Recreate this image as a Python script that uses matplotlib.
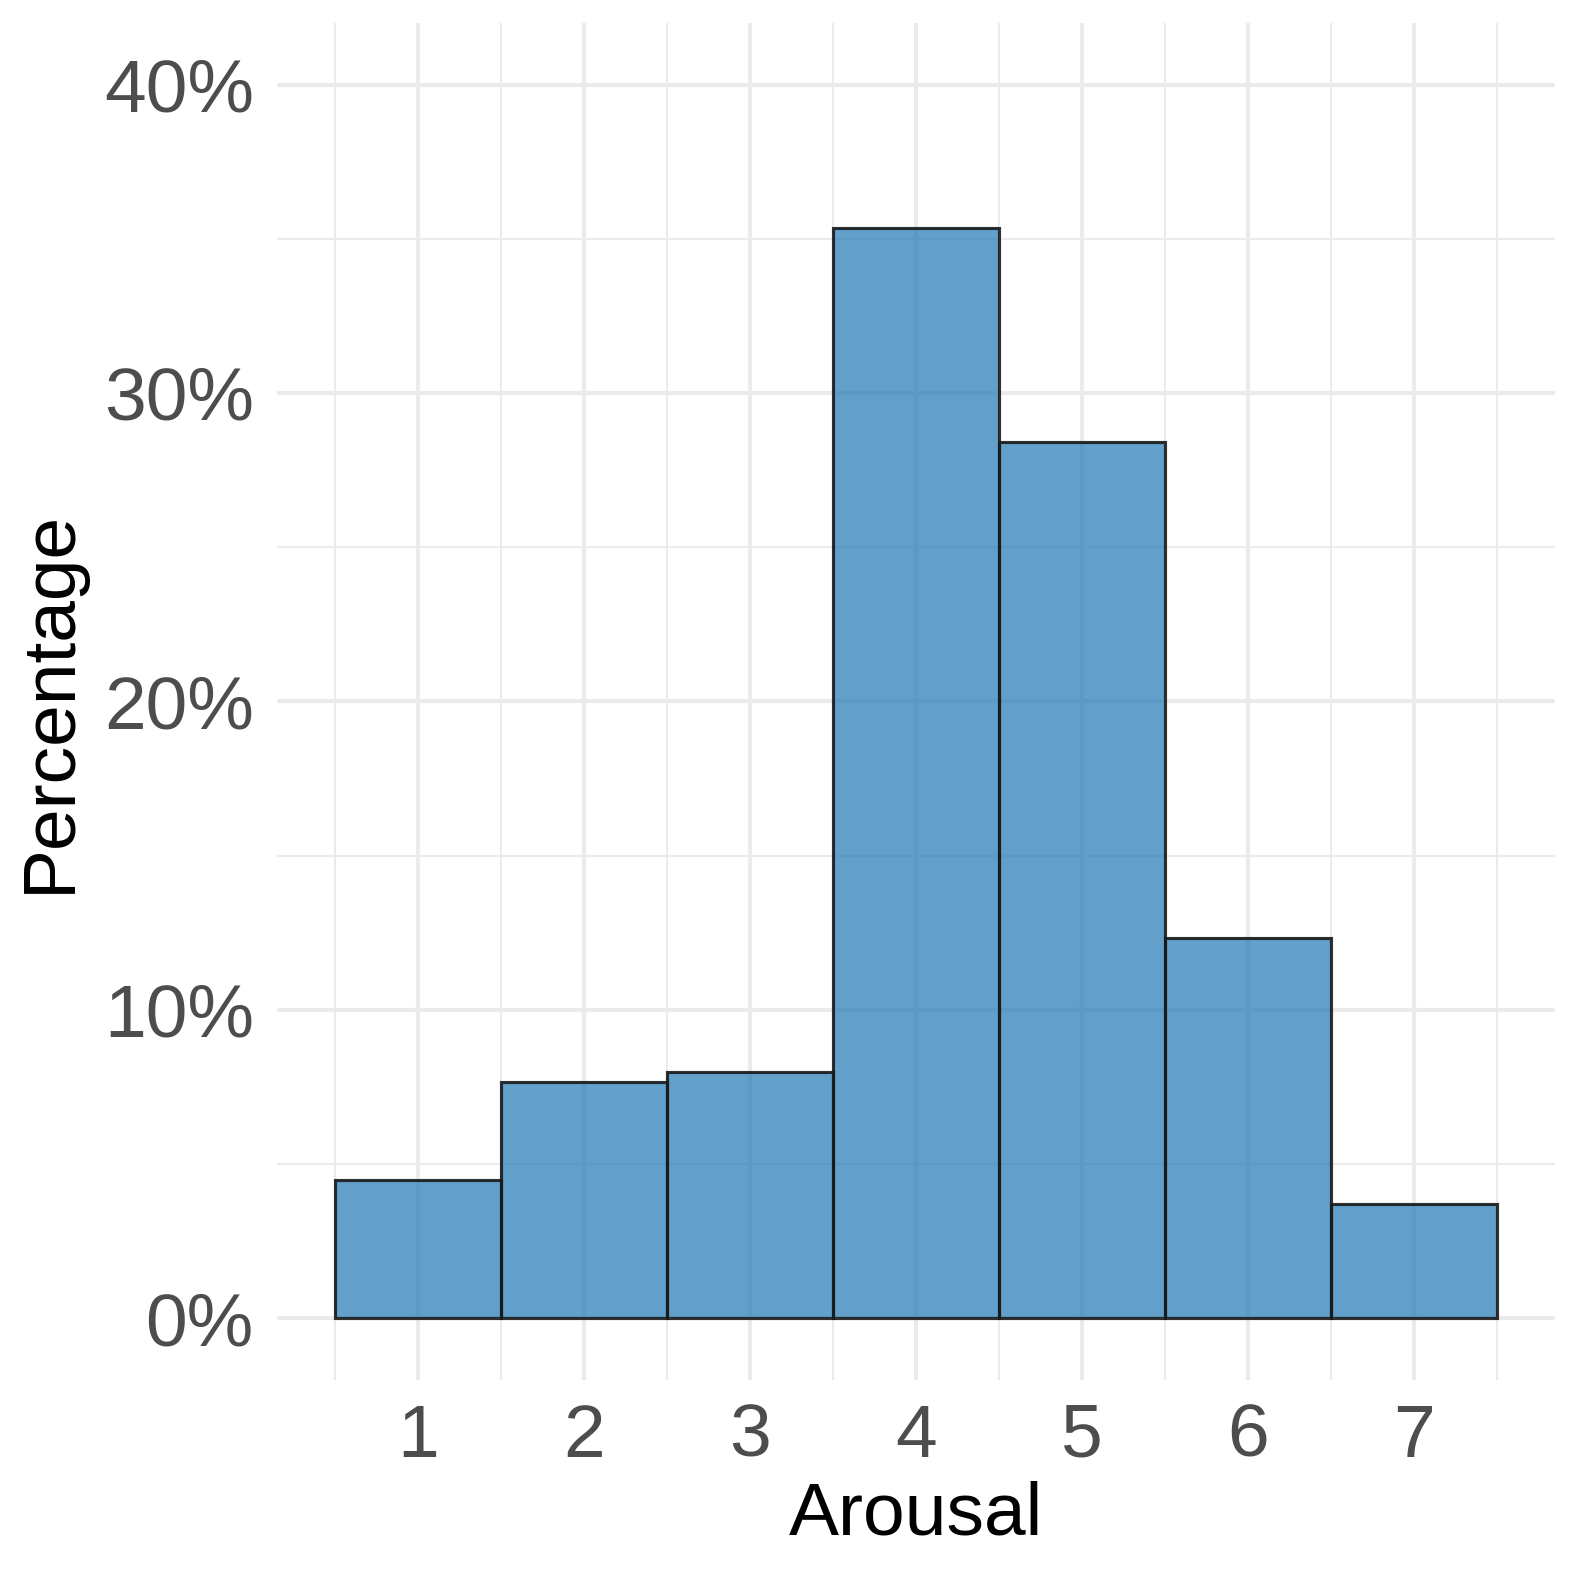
import matplotlib
matplotlib.use("Agg")
import matplotlib.pyplot as plt
from matplotlib.ticker import FixedLocator, FuncFormatter

# Arousal rating distribution (percent of responses)
arousal = [1, 2, 3, 4, 5, 6, 7]
percent = [4.47, 7.67, 7.99, 35.35, 28.4, 12.33, 3.69]
y_major = [0, 10, 20, 30, 40]
y_minor = [5, 15, 25, 35]

plt.rcParams["font.family"] = ["Liberation Sans", "DejaVu Sans"]

fig = plt.figure(figsize=(5.26, 5.26), dpi=300)
ax = fig.add_axes([0.1754, 0.1256, 0.8099, 0.8599])

ax.bar(arousal, percent, width=1.0, color="#1F77B4", alpha=0.7,
       edgecolor="none", zorder=2)
ax.bar(arousal, percent, width=1.0, facecolor="none",
       edgecolor=(0.1, 0.1, 0.1, 0.9), linewidth=0.75, zorder=3)

ax.set_xlim(0.15, 7.85)
ax.set_ylim(-2, 42)

ax.xaxis.set_major_locator(FixedLocator(arousal))
ax.xaxis.set_minor_locator(FixedLocator([x + 0.5 for x in range(0, 8)]))
ax.yaxis.set_major_locator(FixedLocator(y_major))
ax.yaxis.set_minor_locator(FixedLocator(y_minor))
ax.yaxis.set_major_formatter(FuncFormatter(lambda v, p: f"{v:.0f}%"))

ax.grid(which="major", color="#EBEBEB", linewidth=1.0, zorder=0)
ax.grid(which="minor", color="#EBEBEB", linewidth=0.5, zorder=0)
ax.set_axisbelow(True)

for s in ax.spines.values():
    s.set_visible(False)
ax.tick_params(which="both", length=0, labelsize=18, labelcolor="#4D4D4D")
ax.tick_params(axis="y", pad=5.5)
ax.tick_params(axis="x", pad=5.5)

ax.set_xlabel("Arousal", fontsize=18, color="black", labelpad=2)
ax.set_ylabel("Percentage", fontsize=18, color="black", labelpad=4.5)

fig.savefig("out.png", dpi=300, facecolor="white")
